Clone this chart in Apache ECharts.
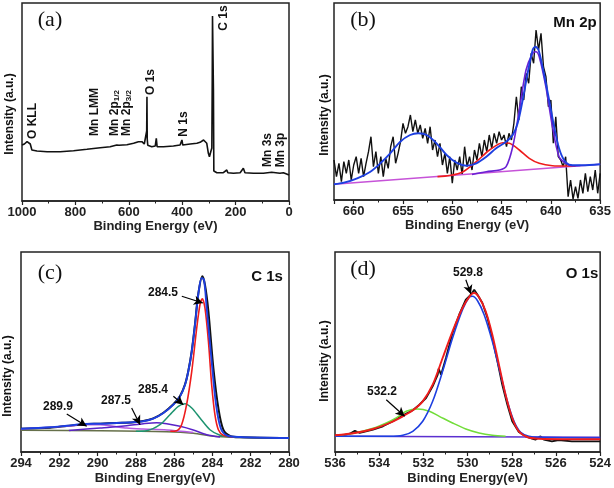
<!DOCTYPE html>
<html><head><meta charset="utf-8">
<script src="https://cdn.jsdelivr.net/npm/echarts@6/dist/echarts.min.js"></script>
<style>html,body{margin:0;padding:0;background:#fff}#c{width:614px;height:488px}</style>
</head><body><div id="c"></div>
<script>
// ---------- (a) survey ----------
const surveyTicks = [0, 200, 400, 600, 800, 1000];
const surveyData = [[1000,56],[991,57],[981,59.3],[975,61],[969,57],[963,51],[944,50],[906,49.3],[857,49.3],[807,50.3],[757,51.7],[707,53.3],[670,54.3],[645,56],[642,57.7],[637,55.7],[607,56.3],[582,57.7],[564,59.3],[557,61],[551,59.3],[542,57],[536,56],[533,70],[532,104.3],[531,62],[529,55.7],[514,54.3],[501,55],[497,62.7],[494,54.3],[470,54.3],[433,55],[408,56],[401,61],[398,56],[370,57],[345,57.7],[333,58.7],[320,61],[314,61.7],[308,57.7],[302,47.7],[298,44.3],[293,49.3],[289,53],[287.5,120],[286.5,185],[285,185],[283,110],[281.5,30],[280,28.5],[270,28.3],[246,28.3],[233,31],[229,28.3],[208,27.7],[183,28.3],[171,32.7],[168,34.3],[165,28.3],[133,27.7],[96,27.7],[65,28.7],[59,27.7],[34,27.7],[21,28.3],[9,27],[0,26]];

// ---------- (b) Mn 2p ----------
const mnData = [[662,40],[661.75,23.3],[661.5,36.7],[661.25,18.3],[661,38.3],[660.75,26.7],[660.5,40],[660.25,20],[660,35],[659.75,43.3],[659.5,26.7],[659.25,41.7],[659,23.3],[658.75,36.7],[658.5,48.3],[658.25,63.3],[658,33.3],[657.75,48.3],[657.5,26.7],[657.25,43.3],[657,23.3],[656.75,41.7],[656.5,31.7],[656.25,53.3],[656,63.3],[655.75,36.7],[655.5,46.7],[655.25,58.3],[655,76.7],[654.75,66.7],[654.5,73.3],[654.25,85],[654,68.3],[653.75,80],[653.5,66.7],[653.25,75],[653,61.7],[652.75,71.7],[652.5,56.7],[652.25,73.3],[652,50],[651.75,60],[651.5,43.3],[651.25,56.7],[651,35],[650.75,46.7],[650.5,26.7],[650.25,43.3],[650,16.7],[649.75,40],[649.5,30],[649.25,43.3],[649,25],[648.75,53.3],[648.5,33.3],[648.25,43.3],[648,30],[647.75,50],[647.5,40],[647.25,56.7],[647,43.3],[646.75,60],[646.5,48.3],[646.25,65],[646,51.7],[645.75,66.7],[645.5,56.7],[645.25,68.3],[645,60],[644.75,65],[644.5,53.3],[644.25,66.7],[644,60],[643.75,76.7],[643.5,103.3],[643.25,80],[643,113.3],[642.75,100],[642.5,126.7],[642.25,116.7],[642,146.7],[641.75,136.7],[641.5,170],[641.25,150],[641,166.7],[640.75,133.3],[640.5,123.3],[640.25,93.3],[640,100],[639.75,56.7],[639.5,83.3],[639.25,43.3],[639,40],[638.75,33.3],[638.5,43.3],[638.25,3.3],[638,20],[637.75,1],[637.5,13.3],[637.25,1.7],[637,20],[636.75,6.7],[636.5,26.7],[636.25,8.3],[636,23.3],[635.75,10],[635.5,30],[635.25,6.7],[635,26.7]];
const mnEnvelope = [[662,15.7],[661,17.3],[659.65,21.7],[658.31,28.3],[657.3,36.7],[656.3,46.7],[655.28,58.3],[654.28,65],[653.44,66.7],[652.6,65],[651.6,56.7],[650.58,45],[649.58,37.3],[648.57,34.3],[647.56,36.7],[646.55,43.3],[645.55,51.7],[644.54,58.3],[643.87,65],[643.37,76.7],[642.86,100],[642.36,126.7],[641.85,150],[641.58,153.3],[641.25,150],[640.78,130],[640.24,103.3],[639.67,73.3],[639.17,51.7],[638.66,40],[637.99,35],[636.82,34.7],[635,35.7]];
const mnPeak645 = [[651.5,23.4],[650.25,24.5],[648.9,28.3],[647.56,38.3],[646.22,50],[644.87,57.3],[644.2,56.7],[643.2,50],[642.19,41.7],[641.18,36.7],[639.84,34.3],[638.5,34],[637.5,34]];
const mnPeak641 = [[648,25.5],[646.55,28.3],[645.2,30],[644.54,33.3],[643.87,53.3],[643.2,90],[642.52,130],[641.85,146.7],[641.52,148.3],[641.18,143.3],[640.51,113.3],[639.84,73.3],[639.17,43.3],[638.5,36.7],[637.82,34.3],[637,34.5]];
const mnBaseline = [[662,15.7],[635,35.7]];

// ---------- (c) C 1s ----------
const cData = [[294,23.3],[292.49,24.3],[291.61,26],[290.74,27.7],[289.87,28.3],[289,29],[288.13,29.7],[287.61,31],[287.09,33.7],[286.56,39.3],[286.04,47.7],[285.69,56],[285.43,67.7],[285.26,81],[285.08,101],[284.91,128],[284.74,158],[284.53,175.7],[284.39,167.3],[284.21,140.7],[283.95,84],[283.69,44],[283.43,22.3],[283.08,16],[282.56,14.7],[280,14]];
const cEnvelope = [[294,23.3],[292.49,24.7],[291.61,26.3],[290.74,28],[289.87,28.3],[289,29],[288.13,29.7],[287.61,30.7],[287.09,33.3],[286.56,39],[286.04,47.3],[285.69,55.7],[285.43,67.3],[285.26,80.7],[285.08,100.7],[284.91,127.3],[284.74,157.3],[284.56,174],[284.44,172.3],[284.3,144],[284.04,90.7],[283.81,47.3],[283.57,24],[283.26,16.7],[282.56,15],[280,14]];
const cPeak2845 = [[286.2,20.7],[285.87,21.3],[285.61,27.3],[285.35,47.3],[285.08,80.7],[284.82,124],[284.65,147.3],[284.53,153.3],[284.39,144],[284.21,110.7],[284.04,67.3],[283.87,37.3],[283.69,22.3],[283.43,16.7],[282.91,15]];
const cPeak2854 = [[288,20.8],[287.44,21.3],[286.74,27.3],[286.22,37.3],[285.78,45.7],[285.43,48.3],[285.08,44],[284.65,34],[284.13,22.3],[283.6,16.7],[283.08,15]];
const cPeak2875 = [[291.5,21.6],[289.87,24],[289.35,24.7],[288.48,26.3],[287.61,28.3],[286.91,29.3],[286.39,28.3],[285.69,25.7],[285,22],[284.3,17.3],[283.6,15]];
const cPeak2899 = [[294,23],[292.49,24.7],[291.27,26.3],[290.57,27.3],[289.87,27.3],[289.18,25.7],[288.48,24],[287.61,23],[286.39,22],[285,19.5]];
const cBaseline = [[294,21.7],[289.87,21.3],[286.39,20.3],[285,18.7],[283.95,15.7],[282.91,14.7],[280,14]];

// ---------- (d) O 1s ----------
const oData = [[536,16.7],[535.63,16.7],[535.33,18.3],[535.1,21.3],[534.88,19],[534.28,22.3],[533.83,25.7],[533.38,30.7],[532.93,36.7],[532.48,41.7],[532.18,47.3],[531.88,54],[531.58,65.7],[531.35,77.3],[531.31,83.3],[531.2,77.3],[530.98,94],[530.68,119],[530.38,137.3],[530.08,152.3],[529.85,157.3],[529.7,162.3],[529.55,157.3],[529.33,149],[529.1,134],[528.88,114],[528.65,90.7],[528.43,67.3],[528.2,47.3],[527.98,30.7],[527.68,20],[527.38,15.7],[527.08,13.3],[526.93,12.3],[526.7,15.7],[526.55,12.3],[526.18,10.7],[525.88,12],[525.28,10.7],[524.53,10.7],[524,10.7]];
const oEnvelope = [[536,16.7],[535.1,19],[534.28,23],[533.53,29],[532.93,35.7],[532.48,41.7],[532.03,50.7],[531.58,67.3],[531.13,94],[530.68,120.7],[530.23,144],[529.85,157.3],[529.7,159],[529.48,154.7],[529.18,140.7],[528.88,117.3],[528.58,87.3],[528.28,57.3],[527.98,34],[527.68,20.7],[527.3,15],[526.78,13.3],[524,12.7]];
const oPeak5298 = [[536,15.7],[533.53,15.7],[532.93,16.7],[532.48,20.7],[532.03,30.7],[531.58,50.7],[531.13,80.7],[530.68,114],[530.23,142.3],[529.93,154.7],[529.78,155.7],[529.55,151.3],[529.25,137.3],[528.88,110.7],[528.5,77.3],[528.2,50.7],[527.9,30.7],[527.6,19.7],[527.23,15.7],[526.78,14.7],[524,14]];
const oPeak5322 = [[536,16],[535.1,19],[534.28,23.7],[533.68,29],[533.23,34],[532.78,40.7],[532.25,43],[531.73,40.7],[531.28,35.7],[530.68,29],[530.08,23],[529.48,19],[528.88,16.7],[528.28,15.7]];
const oBaseline = [[536,15.7],[524,14.7]];

// annotations: [x0, y0, x1, y1] (data units)
const cArrows = [[285.6,155.7,284.5,149],[286.04,55.7,285.52,47.3],[288.22,44,287.78,27.3],[291.61,38,290.57,25.7]];
const oArrows = [[530.08,172.3,529.85,158],[533.68,52.3,532.85,35.7]];

const F = '"Liberation Sans", Arial, sans-serif';
const chart = echarts.init(document.getElementById('c'), null, {renderer:'canvas'});

function xa(gi, min, max, interval, name, nameGap, extraLabel) {
  return {
    type:'value', gridIndex:gi, min:min, max:max, interval:interval, inverse:true,
    name:name, nameLocation:'middle', nameGap:nameGap,
    nameTextStyle:{fontFamily:F, fontWeight:'bold', fontSize:13, color:'#222'},
    axisLine:{show:true, onZero:false, lineStyle:{color:'#222', width:1.5}},
    axisTick:{show:true, inside:false, length:4, lineStyle:{color:'#222', width:1.2}},
    minorTick:{show:true, splitNumber:2, length:2.5, lineStyle:{color:'#222', width:1}},
    axisLabel:Object.assign({fontFamily:F, fontWeight:'bold', fontSize:13, color:'#222', margin:5,
      formatter: v => String(v)}, extraLabel || {}),
    splitLine:{show:false}, minorSplitLine:{show:false}
  };
}
function ya(gi, min, max) {
  return {type:'value', gridIndex:gi, min:min, max:max, show:false, splitLine:{show:false}};
}
function ln(gi, data, color, width, smooth, extra) {
  return Object.assign({type:'line', xAxisIndex:gi, yAxisIndex:gi, data:data, showSymbol:false, symbol:'none',
    smooth: smooth ? 0.3 : false, lineStyle:{color:color, width:width}, silent:true, animation:false}, extra || {});
}
function arrows(list) {
  return {silent:true, animation:false, symbol:['none','arrow'], symbolSize:[7,9],
    lineStyle:{color:'#000', width:1.2, type:'solid'}, label:{show:false},
    data:list.map(a => [{coord:[a[0],a[1]]},{coord:[a[2],a[3]]}])};
}
const gridBase = {show:true, borderColor:'#222', borderWidth:1.5, backgroundColor:'transparent'};

function txt(x, y, text, size, opts) {
  opts = opts || {};
  return {type:'text', x:x, y:y, rotation: opts.rot ? Math.PI/2 : 0, silent:true,
    style:{text:text, fontFamily: opts.serif ? '"Liberation Serif","Times New Roman",serif' : F,
      fontWeight: opts.serif ? 'normal' : 'bold', fontSize:size, fill:'#111',
      align:'center', verticalAlign:'middle',
      rich: {s:{fontFamily:F, fontWeight:'bold', fontSize:8, verticalAlign:'bottom', fill:'#111'},
             m:{fontFamily:F, fontWeight:'bold', fontSize:12, fill:'#111'}}}};
}

const option = {
  animation:false,
  backgroundColor:'#fff',
  grid:[
    Object.assign({left:22, top:3, width:267, height:198}, gridBase),
    Object.assign({left:334, top:3, width:268, height:197}, gridBase),
    Object.assign({left:21, top:252, width:268, height:200}, gridBase),
    Object.assign({left:335, top:252, width:267, height:200}, gridBase)
  ],
  xAxis:[
    xa(0, surveyTicks[0], surveyTicks[surveyTicks.length-1], 200, 'Binding Energy (eV)', 19),
    xa(1, 635, 662, 5, 'Binding Energy (eV)', 19, {showMaxLabel:false}),
    xa(2, 280, 294, 2, 'Binding Energy(eV)', 20),
    xa(3, 524, 536, 2, 'Binding Energy(eV)', 20)
  ],
  yAxis:[ya(0,0,198), ya(1,0,197), ya(2,0,200), ya(3,0,200)],
  series:[
    ln(0, surveyData, '#111', 1.6, false),
    ln(1, mnData, '#111', 1.4, false),
    ln(1, mnBaseline, '#c653d8', 1.5, false),
    ln(1, mnPeak645, '#ee1c1c', 1.6, true),
    ln(1, mnPeak641, '#6a22d4', 1.6, true),
    ln(1, mnEnvelope, '#1d3fe0', 1.9, true),
    ln(2, cData, '#111', 2, true, {markLine: arrows(cArrows)}),
    ln(2, cBaseline, '#66704a', 1.5, true),
    ln(2, cPeak2899, '#b45ae0', 1.5, true),
    ln(2, cPeak2875, '#5a22c8', 1.5, true),
    ln(2, cPeak2854, '#1f9470', 1.5, true),
    ln(2, cPeak2845, '#ee1c1c', 1.6, true),
    ln(2, cEnvelope, '#1d3fe0', 1.9, true),
    ln(3, oData, '#111', 1.8, false),
    ln(3, oBaseline, '#5b2fcf', 1.5, false),
    ln(3, oPeak5322, '#72dd3a', 1.5, true),
    ln(3, oPeak5298, '#1d3fe0', 1.6, true),
    ln(3, oEnvelope, '#ee1c1c', 1.9, true, {markLine: arrows(oArrows)})
  ],
  graphic:[
    txt(50, 20, '(a)', 22, {serif:true}),
    txt(363, 20, '(b)', 22, {serif:true}),
    txt(50, 273, '(c)', 22, {serif:true}),
    txt(363, 269, '(d)', 22, {serif:true}),
    txt(575, 23, 'Mn 2p', 15),
    txt(267, 277, 'C 1s', 15),
    txt(582, 274, 'O 1s', 15),
    txt(10, 114, 'Intensity (a.u.)', 12, {rot:true}),
    txt(325, 115, 'Intensity (a.u.)', 12, {rot:true}),
    txt(8, 376, 'Intensity (a.u.)', 12, {rot:true}),
    txt(325, 361, 'Intensity (a.u.)', 12, {rot:true}),
    txt(33, 121, 'O KLL', 12, {rot:true}),
    txt(95, 112, 'Mn LMM', 12, {rot:true}),
    txt(115, 113, '{m|Mn 2p}{s|1/2}', 12, {rot:true}),
    txt(127, 113, '{m|Mn 2p}{s|3/2}', 12, {rot:true}),
    txt(151, 82, 'O 1s', 12, {rot:true}),
    txt(184, 124, 'N 1s', 12, {rot:true}),
    txt(224, 18, 'C 1s', 12, {rot:true}),
    txt(268, 150, 'Mn 3s', 12, {rot:true}),
    txt(281, 150, 'Mn 3p', 12, {rot:true}),
    txt(163, 293, '284.5', 12),
    txt(153, 390, '285.4', 12),
    txt(116, 401, '287.5', 12),
    txt(58, 407, '289.9', 12),
    txt(468, 273, '529.8', 12),
    txt(382, 392, '532.2', 12)
  ]
};
chart.setOption(option);
</script>
</body></html>
